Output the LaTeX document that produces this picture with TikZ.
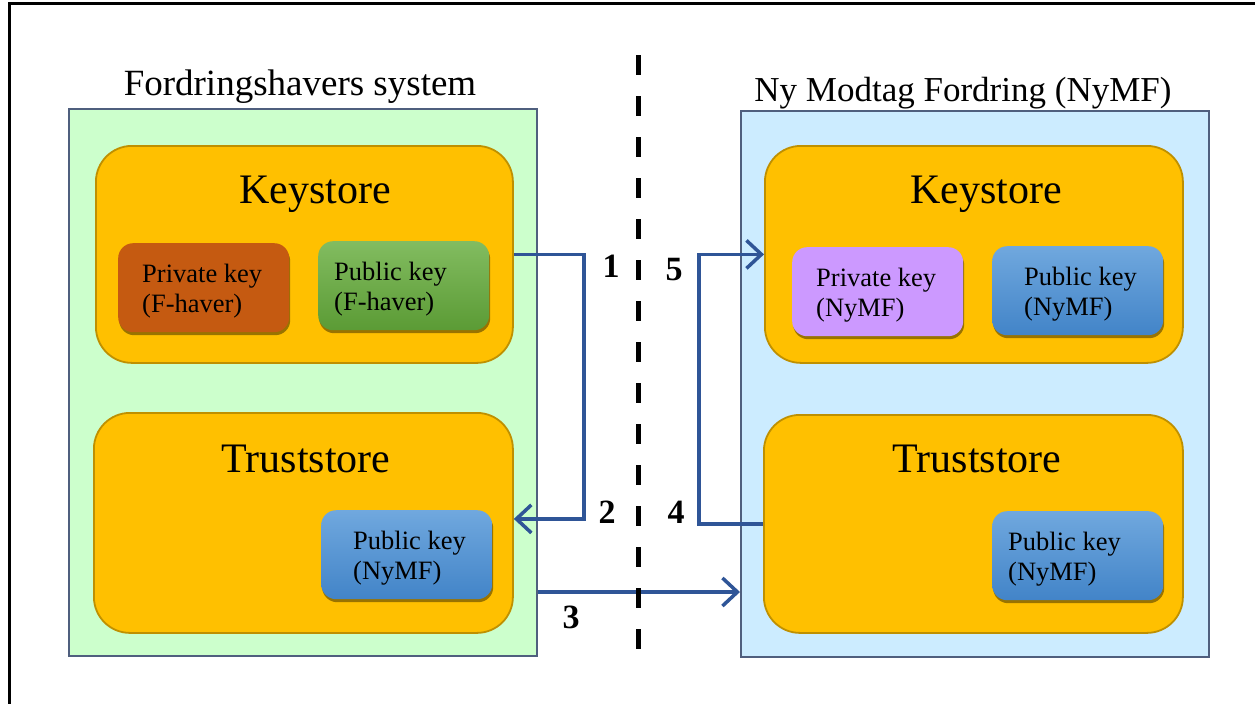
\documentclass[tikz,border=0pt]{standalone}
\usepackage{fontspec}
\setmainfont{Liberation Serif}
\usetikzlibrary{arrows.meta,shadows,calc}
\definecolor{greenfill}{HTML}{CCFFCC}
\definecolor{bluefill}{HTML}{CCECFF}
\definecolor{sysborder}{HTML}{4F5F7E}
\definecolor{storefill}{HTML}{FFC000}
\definecolor{storeborder}{HTML}{BF9000}
\definecolor{privorange}{HTML}{C55A11}
\definecolor{greentop}{HTML}{82BC60}
\definecolor{greenbot}{HTML}{5B9B35}
\definecolor{bluetop}{HTML}{70A8DE}
\definecolor{bluebot}{HTML}{4284C8}
\definecolor{purplefill}{HTML}{CC99FF}
\definecolor{arrowblue}{HTML}{2F5597}
\tikzset{
  sysbox/.style={draw=sysborder, line width=2pt, anchor=north west, inner sep=0pt},
  systitle/.style={font=\fontsize{#1}{#1}\selectfont, anchor=base, inner sep=0pt},
  store/.style={draw=storeborder, fill=storefill, line width=1.8pt, rounded corners=36pt, anchor=north west, inner sep=0pt},
  storetitle/.style={font=\fontsize{42}{42}\selectfont, anchor=base, inner sep=0pt},
  keybox/.style={rounded corners=15pt, anchor=north west, inner sep=0pt, minimum width=171pt, minimum height=89pt,
    drop shadow={shadow xshift=1pt, shadow yshift=-3pt, fill=black, opacity=0.4}},
  keytext/.style={font=\fontsize{26.5}{30}\selectfont, align=left, anchor=west, inner sep=0pt},
  num/.style={font=\bfseries\fontsize{34}{34}\selectfont, anchor=base, inner sep=0pt},
  conn/.style={draw=arrowblue, line width=3.5pt, -{Straight Barb[length=15pt,width=28pt,line width=3.5pt]}},
  divider/.style={line width=5pt, dash pattern=on 20pt off 21pt},
}
\begin{document}
\begin{tikzpicture}[x=1pt,y=-1pt]
\useasboundingbox (0,0) rectangle (1255,704);
% frame
\draw[line width=3pt] (1255,3) -- (9,3) -- (9,704);

% system boxes
\node[sysbox, fill=greenfill, minimum width=468pt, minimum height=547pt] (fhs) at (68,108) {};
\node[sysbox, fill=bluefill, minimum width=468pt, minimum height=546pt] (nymf) at (740,110) {};
\node[systitle=37] (fhst) at (300,95) {Fordringshavers system};
\node[systitle=35] (nymft) at (963,101) {Ny Modtag Fordring (NyMF)};

% stores
\node[store, minimum width=417pt, minimum height=217pt] (lks) at (95,145) {};
\node[store, minimum width=419pt, minimum height=220pt] (lts) at (93,412) {};
\node[store, minimum width=418pt, minimum height=217pt] (rks) at (764,145) {};
\node[store, minimum width=419pt, minimum height=218pt] (rts) at (763,414) {};
\node[storetitle] (lkst) at (315,203) {Keystore};
\node[storetitle] (ltst) at (306,472) {Truststore};
\node[storetitle] (rkst) at (986,203) {Keystore};
\node[storetitle] (rtst) at (977,472) {Truststore};

% key boxes
\node[keybox, fill=privorange] (lpriv) at (118,243) {};
\node[keytext] (lprivt) at ([xshift=24pt,yshift=-3pt]lpriv.west) {Private key\\(F-haver)};
\node[keybox, top color=greentop, bottom color=greenbot] (lpub) at (318,241) {};
\node[keytext] (lpubt) at ([xshift=16pt,yshift=-3pt]lpub.west) {Public key\\(F-haver)};
\node[keybox, top color=bluetop, bottom color=bluebot] (ltpub) at (321,510) {};
\node[keytext] (ltpubt) at ([xshift=32pt,yshift=-3pt]ltpub.west) {Public key\\(NyMF)};
\node[keybox, fill=purplefill] (rpriv) at (792,247) {};
\node[keytext] (rprivt) at ([xshift=24pt,yshift=-3pt]rpriv.west) {Private key\\(NyMF)};
\node[keybox, top color=bluetop, bottom color=bluebot] (rpub) at (992,246) {};
\node[keytext] (rpubt) at ([xshift=32pt,yshift=-3pt]rpub.west) {Public key\\(NyMF)};
\node[keybox, top color=bluetop, bottom color=bluebot] (rtpub) at (992,511) {};
\node[keytext] (rtpubt) at ([xshift=16pt,yshift=-3pt]rtpub.west) {Public key\\(NyMF)};

% divider
\coordinate (dtop) at (638,55);
\coordinate (dbot) at (638,663);

% connectors
\draw[conn] (lks.east) -- ++(70,0) |- ([yshift=4pt]lts.east);
\draw[conn] (rts.west) -- ++(-64,0) |- (rks.west);
\draw[conn] ([yshift=-209.5pt]fhs.east) -- ([yshift=-208pt]nymf.west);
\draw[divider] (dtop) -- (dbot);

% numbers
\node[num] (n1) at (611,277) {1};
\node[num] (n2) at (607,523) {2};
\node[num] (n3) at (571,628) {3};
\node[num] (n4) at (676,523) {4};
\node[num] (n5) at (674,280) {5};
\end{tikzpicture}
\end{document}
